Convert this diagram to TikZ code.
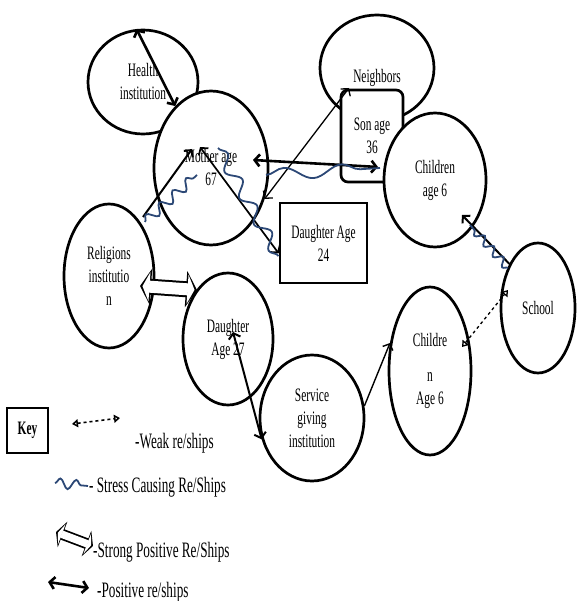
\documentclass[tikz,border=0pt]{standalone}
\usepackage{fontspec}
\setmainfont{Liberation Serif}[FakeStretch=0.6]
\usetikzlibrary{positioning,arrows.meta,shapes.geometric,decorations.pathmorphing}
\definecolor{stressblue}{RGB}{44,72,118}
\tikzset{
  circ/.style={
    ellipse, draw, line width=2.7pt, fill=white, inner sep=0pt,
    align=center, font=\fontsize{19}{23}\selectfont,
  },
  box/.style={circ, rectangle},
  posrel/.style={line width=2pt, {Straight Barb[length=5pt,width=12pt]}-{Straight Barb[length=5pt,width=12pt]}},
  link/.style={line width=1.4pt, -{Straight Barb[length=5pt,width=11pt]}},
  strongrel/.style={
    line width=16pt, {Triangle[length=11pt,width=36pt]}-{Triangle[length=11pt,width=36pt]},
    postaction={draw=white, line width=12pt, shorten <=2.5pt, shorten >=2.5pt,
      {Triangle[length=7pt,width=29pt]}-{Triangle[length=7pt,width=29pt]}},
  },
  strongkey/.style={
    line width=11pt, {Triangle[length=7pt,width=27pt]}-{Triangle[length=7pt,width=27pt]},
    postaction={draw=white, line width=7.5pt, shorten <=2pt, shorten >=2pt,
      {Triangle[length=4.2pt,width=21pt]}-{Triangle[length=4.2pt,width=21pt]}},
  },
  weakrel/.style={line width=1.3pt, dashed, {Triangle[open,length=6pt,width=8pt]}-{Triangle[open,length=6pt,width=8pt]}},
  stress/.style={stressblue, line width=1.8pt, decorate, decoration={snake, amplitude=4pt, segment length=14pt}},
  keytext/.style={font=\fontsize{22}{26}\selectfont, anchor=west, inner sep=0pt},
}

\begin{document}
\begin{tikzpicture}[x=1pt, y=-1pt]
\useasboundingbox (0,0) rectangle (576,601);

\node[circ, minimum width=110pt, minimum height=104pt] (health) at (143,82) {Health\\institution};
\node[circ, minimum width=114pt, minimum height=154pt] (mother) at (211,168) {Mother age\\67};
\node[circ, minimum width=114pt, minimum height=106pt,
  label={[yshift=-10pt, font=\fontsize{19}{23}\selectfont]center:Neighbors}] (neigh) at (377,68) {};
\node[box, rounded corners=7pt, minimum width=62pt, minimum height=92pt] (son) at (372,136) {Son age\\36};
\node[circ, minimum width=102pt, minimum height=134pt] (kid1) at (435,180) {Children\\age 6};
\node[box, minimum width=87pt, minimum height=80pt] (dau24) at (323.5,243) {Daughter Age\\24};
\node[circ, minimum width=90pt, minimum height=144pt] (relig) at (109,276) {Religions\\institutio\\n};
\node[circ, minimum width=90pt, minimum height=132pt] (dau27) at (228,339) {Daughter\\Age 27};
\node[circ, minimum width=104pt, minimum height=126pt] (serv) at (312,418) {Service\\giving\\institution};
\node[circ, minimum width=82pt, minimum height=168pt] (kid2) at (430,371) {Childre\\[12pt]n\\Age 6};
\node[circ, minimum width=74pt, minimum height=130pt] (school) at (538,308) {School};

\draw[posrel, line width=2.6pt] (health.97) -- (mother.120);
\draw[link, line width=2pt] ([xshift=34pt,yshift=59pt]relig.center) -- ([xshift=-19pt,yshift=19pt]mother.center);
\draw[posrel, line width=1.7pt] ([xshift=-11pt,yshift=21pt]mother.center) -- (dau24.193);
\draw[posrel, line width=1.3pt] (mother.-30) -- ([xshift=-28pt,yshift=-20pt]neigh.center);
\draw[posrel, line width=2.6pt] ([xshift=42pt,yshift=8pt]mother.center) -- ([xshift=6pt,yshift=-31pt]son.center);
\draw[strongrel] ([xshift=31pt,yshift=-10pt]relig.center) -- ([xshift=-31pt,yshift=49pt]dau27.center);
\draw[posrel] ([xshift=5pt,yshift=7pt]dau27.center) -- (serv.203);
\draw[link] (serv.13) -- (kid2.145);
\draw[weakrel] ([xshift=32pt,yshift=24pt]kid2.center) -- ([xshift=-30pt,yshift=18pt]school.center);
\draw[link, line width=2pt] (school.123) -- ([xshift=27pt,yshift=-35pt]kid1.center);

\draw[stress, decoration={amplitude=5pt, segment length=18pt}] ([xshift=36pt,yshift=54pt]relig.center) -- ([xshift=-14pt,yshift=-7pt]mother.center);
\draw[stress, decoration={amplitude=6pt, segment length=30pt}] ([xshift=7pt,yshift=20pt]mother.center) -- ([xshift=-45pt,yshift=-13pt]dau24.center);
\draw[stress, decoration={amplitude=6pt, segment length=58pt}] ([xshift=55pt,yshift=-7pt]mother.center) -- ([xshift=8pt,yshift=-32pt]son.center);
\draw[stress] ([xshift=-30pt,yshift=40pt]school.center) -- ([xshift=35pt,yshift=-45pt]kid1.center);

\node[draw, line width=1.2pt, minimum width=41pt, minimum height=45pt,
  font=\bfseries\fontsize{19}{23}\selectfont] (key) at (27.5,430.5) {Key};

\coordinate (w1) at (72,424);
\coordinate (w2) at (120,418);
\draw[weakrel, line width=1.6pt] (w1) -- (w2);
\node[keytext] (weaktxt) at (135,443) {-Weak re/ships};

\coordinate (t1) at (55,483);
\coordinate (t2) at (88,486);
\draw[stress, decoration={amplitude=5pt, segment length=16pt}] (t1) -- (t2);
\node[keytext] (stresstxt) at (89,487) {- Stress Causing Re/Ships};

\coordinate (s1) at (56,532);
\coordinate (s2) at (93,546);
\draw[strongkey] (s1) -- (s2);
\node[keytext] (strongtxt) at (93,552) {-Strong Positive Re/Ships};

\coordinate (p1) at (48,582);
\coordinate (p2) at (89,588);
\draw[posrel, line width=2.6pt] (p1) -- (p2);
\node[keytext] (postxt) at (97,592) {-Positive re/ships};

\end{tikzpicture}
\end{document}
